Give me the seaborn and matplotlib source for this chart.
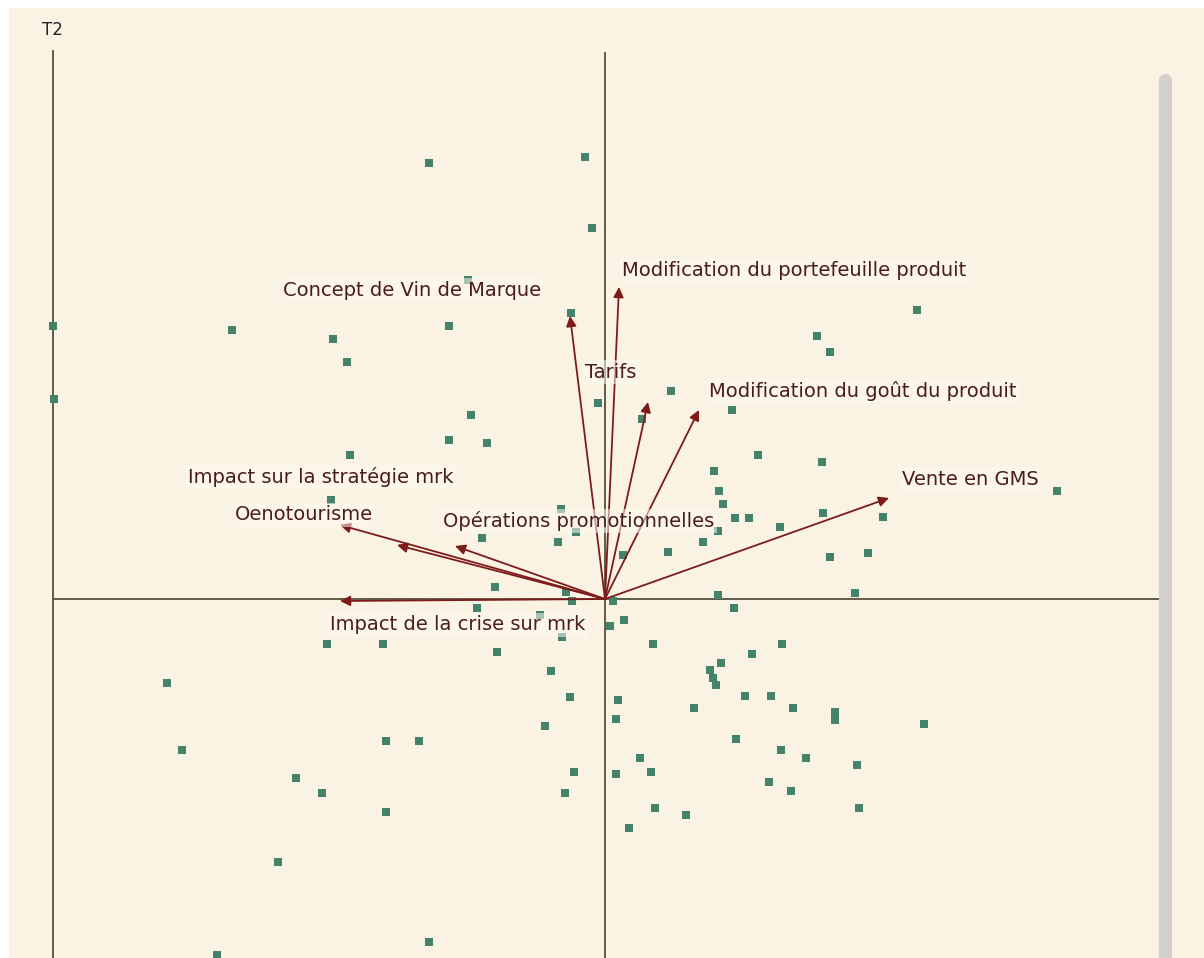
import matplotlib
matplotlib.use("Agg")
import matplotlib.pyplot as plt
import seaborn as sns
import numpy as np
import pandas as pd

# Observation scores on the first two factorial axes (T1, T2)
obs_t1 = [-1.76, -0.20, -0.13, -1.37, -0.34, -1.56, -3.73, -2.72, -2.58, -5.52,
          -5.51, 3.12, 2.12, 2.25, 0.66, -0.07, 0.37, 1.27, -1.34, -1.56,
          -1.18, -2.55, 1.53, 2.17, 1.09, 1.14, 1.18, 1.30, 1.44, 1.75,
          2.18, 2.78, 4.52, -2.74, -0.44, -0.47, -1.23, -0.29, 1.13, 0.98,
          0.18, 0.63, 2.25, 2.63, -1.10, -0.39, -0.33, -1.28, -0.65, 0.08,
          0.05, 0.19, 1.13, 1.29, 2.50, -2.78, -2.22, -1.08, 0.48, 1.77,
          1.47, 1.16, 1.05, 1.08, 1.11, -0.54, -4.38, -0.35, 0.13, 0.11,
          -0.60, 0.89, 1.40, 1.66, 1.88, 2.30, 2.30, 3.19, 1.31, 1.76,
          2.01, -4.23, -2.19, -1.86, -3.09, -2.83, -0.31, 0.11, 0.35, 0.46,
          2.52, 1.64, 1.86, -0.40, 0.50, 0.81, 0.24, 2.54, -2.19, -3.27,
          -1.76, -3.88, -0.43]
obs_t2 = [4.36, 4.42, 3.71, 3.19, 2.86, 2.73, 2.69, 2.60, 2.37, 2.73,
          2.00, 2.89, 2.63, 2.47, 2.08, 1.96, 1.80, 1.89, 1.84, 1.59,
          1.56, 1.44, 1.44, 1.37, 1.28, 1.08, 0.95, 0.81, 0.81, 0.72,
          0.86, 0.82, 1.08, 0.99, 0.90, 0.57, 0.61, 0.67, 0.68, 0.57,
          0.44, 0.47, 0.42, 0.46, 0.12, 0.07, -0.02, -0.09, -0.16, -0.02,
          -0.27, -0.21, 0.04, -0.09, 0.06, -0.45, -0.45, -0.53, -0.45, -0.45,
          -0.55, -0.64, -0.71, -0.79, -0.86, -0.72, -0.84, -0.98, -1.01, -1.20,
          -1.27, -1.09, -0.97, -0.97, -1.09, -1.13, -1.21, -1.25, -1.40, -1.51,
          -1.59, -1.51, -1.42, -1.42, -1.79, -1.94, -1.73, -1.75, -1.59, -1.73,
          -1.66, -1.83, -1.92, -1.94, -2.09, -2.16, -2.29, -2.09, -2.13, -2.63,
          -3.43, -3.56, -0.38]

# Variable loadings (arrow tips)
variables = ["Concept de Vin de Marque", "Modification du portefeuille produit",
             "Tarifs", "Modification du goût du produit", "Vente en GMS",
             "Oenotourisme", "Impact sur la stratégie mrk",
             "Opérations promotionnelles", "Impact de la crise sur mrk"]
var_t1 = [-0.35, 0.14, 0.43, 0.94, 2.84, -2.65, -2.08, -1.50, -2.65]
var_t2 = [2.83, 3.12, 1.97, 1.89, 1.01, 0.74, 0.54, 0.53, -0.02]

# Where each variable name is written (left edge, vertical centre)
label_x = [-3.22, 0.17, -0.20, 1.04, 2.97, -3.70, -4.17, -1.62, -2.75]
label_y = [3.09, 3.28, 2.27, 2.08, 1.20, 0.84, 1.22, 0.78, -0.26]

W, H = 1204, 958
fig = plt.figure(figsize=(W / 100, H / 100), dpi=100, facecolor="white")
ax = fig.add_axes([9 / W, 0, (W - 9) / W, (H - 8) / H])
bg = "#faf3e4"
ax.set_facecolor(bg)
ax.set_xlim(-5.96, 5.99)
ax.set_ylim(-3.59, 5.91)
ax.set_axis_off()
ax.add_patch(plt.Rectangle((0, 0), 1, 1, transform=ax.transAxes,
                           facecolor=bg, edgecolor="none", zorder=0))

axis_col = "#54503c"
ax.hlines(0, -5.52, 5.57, color=axis_col, lw=1.3, zorder=1)
ax.vlines(0, -3.7, 5.47, color=axis_col, lw=1.3, zorder=1)
ax.vlines(-5.52, -3.7, 5.49, color=axis_col, lw=1.3, zorder=1)
ax.text(-5.53, 5.69, "T2", fontsize=12, color="#222222",
        ha="center", va="center", family="DejaVu Sans")

# scroll bar at the right edge
ax.plot([5.60, 5.60], [-3.8, 5.19], color="#d3cfcc", lw=9.5,
        solid_capstyle="round", zorder=1)

df = pd.DataFrame({"T1": obs_t1, "T2": obs_t2})
sns.scatterplot(data=df, x="T1", y="T2", marker="s", s=30, color="#44836a",
                edgecolor="none", ax=ax, zorder=2, legend=False)

arrow_col = "#7d1b1b"
for vx, vy in zip(var_t1, var_t2):
    ax.annotate("", xy=(vx, vy), xytext=(0, 0),
                arrowprops=dict(arrowstyle="-|>", color=arrow_col, lw=1.3,
                                mutation_scale=15, shrinkA=0, shrinkB=0),
                zorder=3)

text_col = "#4a1c1c"
for name, lx, ly in zip(variables, label_x, label_y):
    ax.text(lx, ly, name, fontsize=14, color=text_col, ha="left", va="center",
            family="DejaVu Sans", zorder=4,
            bbox=dict(boxstyle="square,pad=0.12", facecolor="#fcf8f0",
                      edgecolor="none", alpha=0.55))

fig.savefig("out.png", dpi=100, facecolor="white")
